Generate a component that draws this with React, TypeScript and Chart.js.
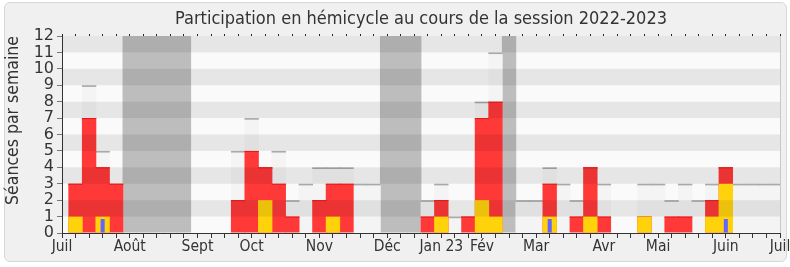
import React, { useEffect, useRef } from 'react';
import { Chart, registerables } from 'chart.js';

Chart.register(...registerables);

// Week index (week 0 = first week of July 2022), from -1 to 52
const WEEKS = [
  -1, 0, 1, 2, 3, 4, 5, 6, 7, 8, 9, 10, 11, 12, 13, 14, 15, 16, 17, 18, 19, 20,
  21, 22, 23, 24, 25, 26, 27, 28, 29, 30, 31, 32, 33, 34, 35, 36, 37, 38, 39, 40,
  41, 42, 43, 44, 45, 46, 47, 48, 49, 50, 51, 52,
];

const MONTH_WEEKS = [-1, 4, 9, 13, 18, 23, 27, 30, 34, 39, 43, 48, 52];
const MONTH_NAMES = ['Juil', 'Août', 'Sept', 'Oct', 'Nov', 'Déc', 'Jan 23', 'Fév', 'Mar', 'Avr', 'Mai', 'Juin', 'Juil'];

const N = null;
// vacances parlementaires (hauteur pleine)
const VACATION = [
  N, N, N, N, N, 12, 12, 12, 12, 12, N, N, N, N, N, N, N, N, N, N, N, N,
  N, N, 12, 12, 12, N, N, N, N, N, N, 12, N, N, N, N, N, N, N, N,
  N, N, N, N, N, N, N, N, N, N, N, N,
];
// séances en hémicycle dans la semaine
const TOTAL = [
  N, 3, 9, 5, 3, N, N, N, N, N, N, N, N, 5, 7, 4, 5, 2, 3, 4, 4, 4,
  3, 3, N, N, N, 2, 3, 1, 1, 8, 11, N, 2, 2, 4, 3, 2, 4, 3, N,
  N, 3, 3, 2, 3, 2, 3, 4, 3, 3, 3, 3,
];
// présences
const PRESENCE = [
  N, 3, 7, 4, 3, N, N, N, N, N, N, N, N, 2, 5, 4, 3, 1, N, 2, 3, 3,
  N, N, N, N, N, 1, 2, N, 1, 7, 8, N, N, N, 3, N, 1, 4, 1, N,
  N, 1, N, 1, 1, N, 2, 4, N, N, N, N,
];
// interventions
const INTERVENTIONS = [
  N, 1, N, 1, N, N, N, N, N, N, N, N, N, N, N, 2, N, N, N, N, 1, N,
  N, N, N, N, N, N, 1, N, N, 2, 1, N, N, N, 1, N, N, 1, N, N,
  N, 1, N, N, N, N, 1, 3, N, N, N, N,
];
// questions orales
const QUESTIONS = [
  N, N, N, 0.85, N, N, N, N, N, N, N, N, N, N, N, N, N, N, N, N, N, N,
  N, N, N, N, N, N, N, N, N, N, N, N, N, N, 0.85, N, N, N, N, N,
  N, N, N, N, N, N, N, 0.85, N, N, N, N,
];

const FONT = "'DejaVu Sans Condensed', 'DejaVu Sans', sans-serif";
const FONT_WIDE = "'DejaVu Sans', sans-serif";

// thin cap drawn at the top of a bar (in axis units)
const cap = (arr: (number | null)[], h: number) => arr.map((v) => (v == null ? null : [v - h, v]));

const plotPlugin = {
  id: 'plotDecor',
  beforeDraw(chart: any) {
    const { ctx, chartArea: a } = chart;
    ctx.save();
    ctx.fillStyle = '#fafafa';
    ctx.fillRect(a.left, a.top, a.right - a.left, a.bottom - a.top);
    ctx.restore();
  },
  afterDatasetsDraw(chart: any) {
    const { ctx, chartArea: a } = chart;
    const y = chart.scales.y;
    ctx.save();
    ctx.fillStyle = 'rgba(0,0,0,0.08)';
    for (let v = 1; v < 12; v += 2) {
      const top = y.getPixelForValue(v + 1);
      const bot = y.getPixelForValue(v);
      ctx.fillRect(a.left, top, a.right - a.left, bot - top);
    }
    ctx.strokeStyle = '#c8c8c8';
    ctx.lineWidth = 1;
    ctx.beginPath();
    ctx.moveTo(Math.round(a.right) + 0.5, a.top);
    ctx.lineTo(Math.round(a.right) + 0.5, a.bottom);
    ctx.stroke();
    ctx.restore();
  },
};

export default function App() {
  const ref = useRef<HTMLCanvasElement>(null);

  useEffect(() => {
    const common = { grouped: false, barPercentage: 1.06, categoryPercentage: 1, inflateAmount: 0, borderWidth: 0 };
    const chart = new Chart(ref.current as HTMLCanvasElement, {
      type: 'bar',
      data: {
        labels: WEEKS.map(String),
        datasets: [
          { label: 'Vacances', data: VACATION, backgroundColor: '#bdbdbd', order: 7, ...common },
          { label: 'Séances', data: TOTAL, backgroundColor: '#f4f4f4', order: 6, ...common },
          { label: 'Séances (haut)', data: cap(TOTAL, 0.1), backgroundColor: '#a9a9a9', order: 5, ...common },
          { label: 'Présences', data: PRESENCE, backgroundColor: 'rgb(255,56,56)', order: 4, ...common },
          { label: 'Présences (haut)', data: cap(PRESENCE, 0.06), backgroundColor: 'rgb(232,22,22)', order: 3, ...common },
          { label: 'Interventions', data: INTERVENTIONS, backgroundColor: 'rgb(255,210,12)', order: 2, ...common },
          {
            label: 'Questions',
            data: QUESTIONS,
            backgroundColor: 'rgb(100,100,255)',
            borderWidth: 0,
            order: 1,
            grouped: false,
            barPercentage: 0.3,
            categoryPercentage: 1,
            inflateAmount: 0,
          },
        ] as any,
      },
      options: {
        responsive: false,
        animation: false,
        devicePixelRatio: 1,
        layout: { padding: { left: 0, right: 10, top: 0, bottom: 0 } },
        plugins: {
          legend: { display: false },
          tooltip: { enabled: false },
          title: {
            display: true,
            text: 'Participation en hémicycle au cours de la session 2022-2023',
            color: '#333',
            font: { family: FONT, size: 18, weight: 'normal', lineHeight: 1.2 },
            padding: { top: 9, bottom: 5.4 },
            fullSize: false,
          },
        },
        scales: {
          x: {
            type: 'category',
            offset: false,
            grid: { offset: false, drawOnChartArea: false, tickLength: 5, color: '#333' },
            border: { color: '#333', width: 1 },
            ticks: {
              autoSkip: false,
              maxRotation: 0,
              minRotation: 0,
              padding: 0,
              color: '#333',
              font: { family: FONT, size: 15.5 },
              callback: (_v: any, i: number) => {
                const m = MONTH_WEEKS.indexOf(WEEKS[i]);
                return m >= 0 ? MONTH_NAMES[m] : '';
              },
            },
            afterFit: (s: any) => {
              s.height = 34;
              s.paddingLeft = 0;
              s.paddingRight = 0;
            },
          },
          x2: {
            type: 'category',
            position: 'top',
            offset: false,
            grid: { offset: false, drawOnChartArea: false, tickLength: 2, color: '#222' },
            border: { display: false },
            ticks: { display: false },
            afterFit: (s: any) => {
              s.height = 0;
              s.paddingLeft = 0;
              s.paddingRight = 0;
            },
          },
          y: {
            min: 0,
            max: 12,
            grid: { drawOnChartArea: false, tickLength: 5, color: '#777' },
            border: { color: '#333', width: 1 },
            ticks: {
              stepSize: 1,
              autoSkip: false,
              padding: 3,
              color: '#333',
              font: { family: FONT_WIDE, size: 16 },
            },
            title: {
              display: true,
              text: 'Séances par semaine',
              color: '#333',
              align: 'end',
              font: { family: FONT, size: 17.5 },
              padding: { top: 3, bottom: 0 },
            },
            afterFit: (s: any) => {
              s.width = 62;
              s.paddingTop = 0;
              s.paddingBottom = 0;
            },
          },
        },
      } as any,
      plugins: [plotPlugin],
    });
    return () => chart.destroy();
  }, []);

  return (
    <div style={{ position: 'fixed', left: 0, top: 0, width: 790, height: 267, background: '#fff' }}>
      <div
        style={{
          position: 'absolute',
          left: 4,
          top: 2,
          width: 781,
          height: 258,
          background: '#f0f0f0',
          border: '1px solid #d8d8d8',
          borderRadius: 6,
        }}
      />
      <canvas
        ref={ref}
        width={790}
        height={267}
        style={{ position: 'absolute', left: 0, top: 0, width: 790, height: 267 }}
      />
    </div>
  );
}
